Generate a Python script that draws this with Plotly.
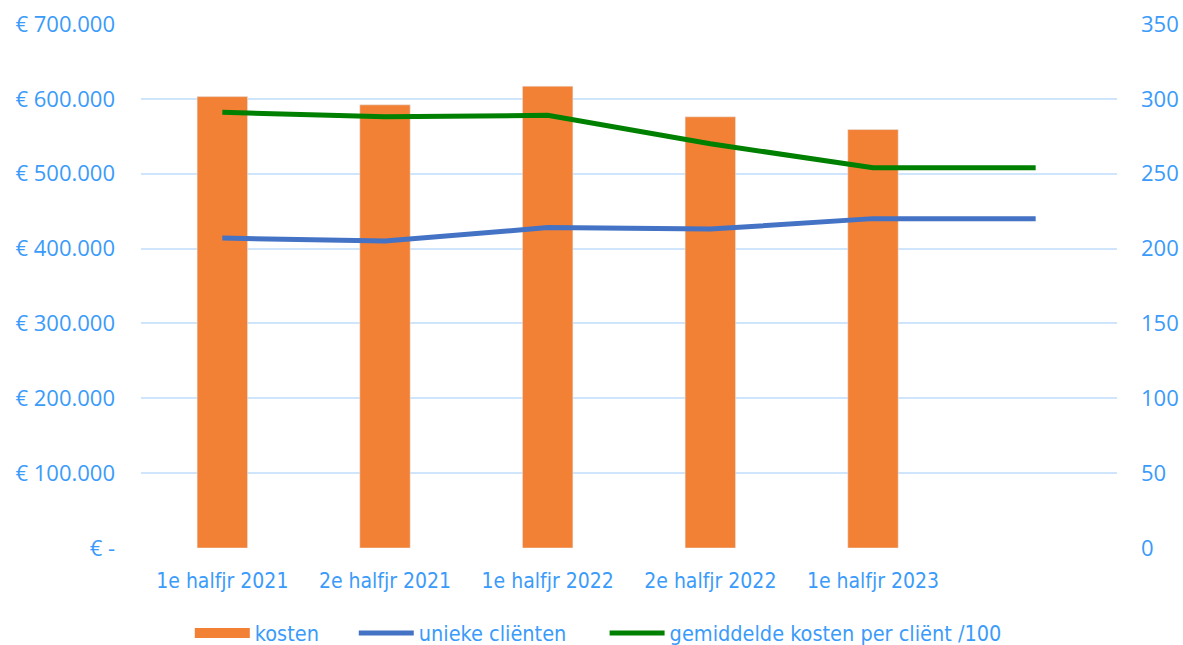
import plotly.graph_objects as go

categories = ["1e halfjr 2021", "2e halfjr 2021", "1e halfjr 2022", "2e halfjr 2022", "1e halfjr 2023", ""]
kosten = [603000, 592000, 617000, 576000, 559000, None]
unieke_clienten = [207, 205, 214, 213, 220, 220]
gem_kosten = [291, 288, 289, 270, 254, 254]

left_tickvals = [0, 100000, 200000, 300000, 400000, 500000, 600000, 700000]
left_ticktext = ["€ -", "€ 100.000", "€ 200.000", "€ 300.000", "€ 400.000", "€ 500.000", "€ 600.000", "€ 700.000"]

ORANGE = "#F28135"
BLUE = "#4472C4"
GREEN = "#008000"
TICK = "#3A9BFA"
GRID = "#CFE5FB"
NARROW = "DejaVu Sans Condensed, Liberation Sans Narrow, Arial Narrow, sans-serif"

x = list(range(len(categories)))

fig = go.Figure()
fig.add_trace(go.Bar(x=x, y=kosten, marker_color=ORANGE, name="kosten",
                     showlegend=False, legendgroup="k"))
fig.add_trace(go.Scatter(x=[None], y=[None], mode="lines", name="kosten",
                         line=dict(color=ORANGE, width=12), legendgroup="k", legend="legend"))
fig.add_trace(go.Scatter(x=x, y=unieke_clienten, mode="lines", name="unieke cliënten",
                         line=dict(color=BLUE, width=5), yaxis="y2", legend="legend2"))
fig.add_trace(go.Scatter(x=x, y=gem_kosten, mode="lines", name="gemiddelde kosten per cliënt /100",
                         line=dict(color=GREEN, width=5), yaxis="y2", legend="legend3"))

leg_common = dict(orientation="h", yref="container", y=0.0186, yanchor="middle",
                  xanchor="left", font=dict(family=NARROW, size=21.5, color=TICK),
                  itemwidth=55, bgcolor="rgba(0,0,0,0)")

fig.update_layout(
    width=1183, height=645,
    margin=dict(l=141, r=66, t=24, b=97),
    plot_bgcolor="white", paper_bgcolor="white",
    bargap=0.69,
    xaxis=dict(tickvals=x, ticktext=categories, range=[-0.5, 5.5], automargin=False,
               showgrid=False, zeroline=False, showline=False,
               tickfont=dict(family=NARROW, size=21, color=TICK),
               ticks="", ticklabelstandoff=18),
    yaxis=dict(range=[0, 700000], tickvals=left_tickvals, ticktext=left_ticktext, automargin=False,
               showgrid=True, gridcolor=GRID, gridwidth=2, zeroline=False, showline=False,
               tickfont=dict(family="Open Sans", size=22, color=TICK),
               ticks="", ticklabelstandoff=25),
    yaxis2=dict(range=[0, 350], dtick=50, overlaying="y", side="right", automargin=False,
                showgrid=False, zeroline=False, showline=False,
                tickfont=dict(family="Open Sans", size=22, color=TICK),
                ticks="", ticklabelstandoff=23),
    legend=dict(leg_common, x=0.050),
    legend2=dict(leg_common, x=0.218),
    legend3=dict(leg_common, x=0.475),
)

fig.write_html("out.html", config={"displayModeBar": False},
               post_script="document.body.style.margin='0';")
